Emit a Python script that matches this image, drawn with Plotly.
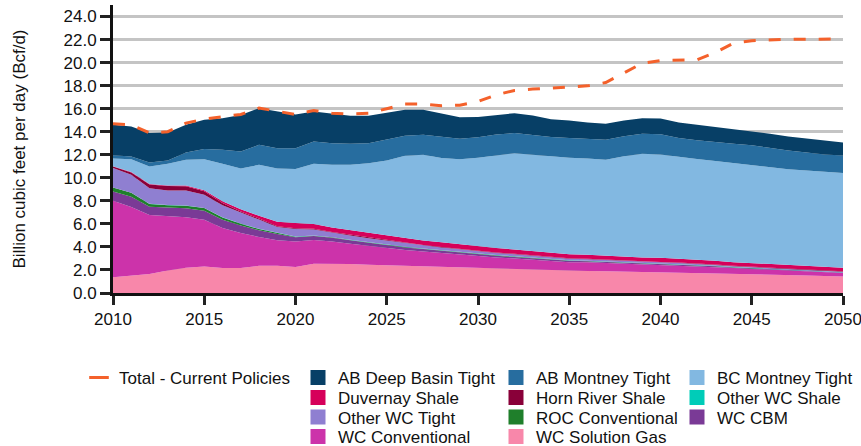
import plotly.graph_objects as go

years = list(range(2010, 2051))

wc_solution_gas = [1.36, 1.50, 1.65, 1.95, 2.20, 2.30, 2.18, 2.18, 2.36, 2.37, 2.25,
                   2.54, 2.54, 2.51, 2.45, 2.40, 2.37, 2.31, 2.28, 2.22, 2.16,
                   2.11, 2.08, 2.02, 1.96, 1.93, 1.90, 1.88, 1.85, 1.82, 1.82,
                   1.79, 1.76, 1.72, 1.68, 1.64, 1.60, 1.56, 1.52, 1.48, 1.44]
wc_conventional = [6.65, 5.96, 5.12, 4.74, 4.37, 4.06, 3.46, 3.03, 2.50, 2.21, 2.23,
                   2.05, 1.94, 1.76, 1.62, 1.50, 1.36, 1.30, 1.19, 1.10, 1.02,
                   0.98, 0.92, 0.87, 0.81, 0.75, 0.76, 0.72, 0.69, 0.66, 0.63,
                   0.61, 0.58, 0.54, 0.48, 0.45, 0.42, 0.39, 0.36, 0.33, 0.30]
wc_cbm = [0.80, 0.90, 0.72, 0.75, 0.78, 0.78, 0.72, 0.66, 0.58, 0.55, 0.36,
          0.35, 0.32, 0.30, 0.29, 0.25, 0.23, 0.21, 0.19, 0.18, 0.17,
          0.15, 0.13, 0.12, 0.12, 0.12, 0.10, 0.10, 0.09, 0.08, 0.07,
          0.06, 0.06, 0.06, 0.05, 0.05, 0.05, 0.04, 0.04, 0.04, 0.04]
roc_conventional = [0.35, 0.35, 0.24, 0.18, 0.23, 0.23, 0.19, 0.14, 0.11, 0.07, 0.05,
                    0.04, 0.03, 0.03, 0.03, 0.03, 0.03, 0.03, 0.03, 0.03, 0.03,
                    0.03, 0.03, 0.03, 0.03, 0.03, 0.02, 0.02, 0.02, 0.02, 0.02,
                    0.02, 0.02, 0.02, 0.02, 0.02, 0.01, 0.01, 0.01, 0.01, 0.01]
other_wc_shale = [0.00, 0.00, 0.01, 0.01, 0.01, 0.01, 0.02, 0.02, 0.02, 0.02, 0.02,
                  0.02, 0.02, 0.02, 0.02, 0.02, 0.02, 0.02, 0.02, 0.02, 0.02,
                  0.02, 0.02, 0.02, 0.02, 0.02, 0.02, 0.02, 0.02, 0.02, 0.02,
                  0.02, 0.02, 0.02, 0.02, 0.02, 0.01, 0.01, 0.01, 0.01, 0.01]
other_wc_tight = [1.70, 1.55, 1.35, 1.27, 1.30, 1.15, 1.05, 0.93, 0.80, 0.50, 0.65,
                  0.51, 0.38, 0.38, 0.34, 0.35, 0.30, 0.24, 0.24, 0.24, 0.21,
                  0.18, 0.18, 0.18, 0.15, 0.12, 0.13, 0.11, 0.10, 0.10, 0.10,
                  0.10, 0.09, 0.08, 0.07, 0.06, 0.06, 0.06, 0.06, 0.06, 0.05]
horn_river_shale = [0.12, 0.20, 0.32, 0.38, 0.38, 0.30, 0.20, 0.12, 0.09, 0.08, 0.07,
                    0.07, 0.06, 0.06, 0.06, 0.05, 0.05, 0.05, 0.05, 0.05, 0.05,
                    0.05, 0.05, 0.05, 0.05, 0.05, 0.04, 0.04, 0.04, 0.04, 0.04,
                    0.04, 0.04, 0.04, 0.04, 0.04, 0.03, 0.03, 0.03, 0.03, 0.03]
duvernay_shale = [0.02, 0.04, 0.05, 0.05, 0.07, 0.10, 0.15, 0.18, 0.25, 0.38, 0.44,
                  0.40, 0.40, 0.40, 0.41, 0.41, 0.41, 0.40, 0.40, 0.38, 0.37,
                  0.38, 0.37, 0.35, 0.34, 0.35, 0.35, 0.34, 0.35, 0.35, 0.35,
                  0.35, 0.34, 0.33, 0.32, 0.32, 0.32, 0.32, 0.32, 0.32, 0.32]
bc_montney_tight = [0.68, 1.12, 1.52, 1.88, 2.22, 2.69, 3.24, 3.54, 4.42, 4.62, 4.70,
                    5.24, 5.44, 5.67, 6.04, 6.50, 7.14, 7.44, 7.32, 7.40, 7.71,
                    8.01, 8.36, 8.36, 8.36, 8.37, 8.36, 8.33, 8.70, 9.00, 8.97,
                    8.82, 8.72, 8.65, 8.60, 8.54, 8.43, 8.33, 8.29, 8.24, 8.21]
ab_montney_tight = [0.27, 0.23, 0.35, 0.29, 0.64, 0.87, 1.22, 1.48, 1.73, 1.77, 1.80,
                    1.93, 1.87, 1.82, 1.73, 1.78, 1.74, 1.73, 1.82, 1.78, 1.77,
                    1.85, 1.74, 1.73, 1.70, 1.72, 1.68, 1.74, 1.74, 1.73, 1.75,
                    1.64, 1.62, 1.62, 1.68, 1.68, 1.64, 1.62, 1.56, 1.50, 1.52]
ab_deep_basin_tight = [2.65, 2.60, 2.55, 2.44, 2.40, 2.54, 2.75, 3.18, 3.18, 3.18, 2.93,
                       2.60, 2.55, 2.43, 2.40, 2.37, 2.25, 2.17, 2.02, 1.86, 1.76,
                       1.71, 1.73, 1.67, 1.55, 1.52, 1.44, 1.39, 1.38, 1.36, 1.37,
                       1.36, 1.36, 1.33, 1.27, 1.25, 1.25, 1.22, 1.21, 1.22, 1.14]
total_current_policies = [14.70, 14.60, 13.90, 14.00, 14.75, 15.10, 15.30, 15.50, 16.05, 15.75, 15.50,
                          15.84, 15.60, 15.55, 15.60, 16.00, 16.40, 16.40, 16.25, 16.30, 16.62,
                          17.20, 17.58, 17.70, 17.78, 17.85, 17.98, 18.27, 19.14, 19.95, 20.18,
                          20.24, 20.24, 20.87, 21.68, 21.90, 21.97, 22.03, 22.03, 22.03, 22.05]

y_tick_values = [0, 2, 4, 6, 8, 10, 12, 14, 16, 18, 20, 22, 24]
x_tick_values = [2010, 2015, 2020, 2025, 2030, 2035, 2040, 2045, 2050]

# stacking order, bottom to top
stack = [
    ("WC Solution Gas", wc_solution_gas, "#f887aa"),
    ("WC Conventional", wc_conventional, "#cc33aa"),
    ("WC CBM", wc_cbm, "#7a3a96"),
    ("ROC Conventional", roc_conventional, "#1f7f2b"),
    ("Other WC Shale", other_wc_shale, "#00ccb8"),
    ("Other WC Tight", other_wc_tight, "#8f7fd1"),
    ("Horn River Shale", horn_river_shale, "#890039"),
    ("Duvernay Shale", duvernay_shale, "#d6005a"),
    ("BC Montney Tight", bc_montney_tight, "#82b8e1"),
    ("AB Montney Tight", ab_montney_tight, "#276d9f"),
    ("AB Deep Basin Tight", ab_deep_basin_tight, "#073f66"),
]
colors = {n: c for n, _, c in stack}
total_color = "#f4612b"

FONT = "Liberation Sans, Arial, sans-serif"
W, H = 861, 446
ML, MR, MT, MB = 113, 18, 5, 153
PW, PH = W - ML - MR, H - MT - MB

fig = go.Figure()
for name, vals, col in stack:
    fig.add_trace(go.Scatter(
        x=years, y=vals, name=name, mode="lines", stackgroup="one",
        line=dict(width=0, color=col), fillcolor=col, showlegend=False))

fig.add_trace(go.Scatter(
    x=years, y=total_current_policies, name="Total - Current Policies", mode="lines",
    line=dict(color=total_color, width=3, dash="12px,13px"), showlegend=False))

# legend layout: column 1 has the total line, columns 2-4 the areas
legend_cells = [
    ("Total - Current Policies", 1, 0, 0),
    ("AB Deep Basin Tight", 2, 1, 0), ("AB Montney Tight", 3, 2, 0), ("BC Montney Tight", 4, 3, 0),
    ("Duvernay Shale", 5, 1, 1), ("Horn River Shale", 6, 2, 1), ("Other WC Shale", 7, 3, 1),
    ("Other WC Tight", 8, 1, 2), ("ROC Conventional", 9, 2, 2), ("WC CBM", 10, 3, 2),
    ("WC Conventional", 11, 1, 3), ("WC Solution Gas", 12, 2, 3),
]
col_text_x = [119, 338, 536, 717]
row_center_y = [377.5, 397.5, 417, 436.5]

legends = {}
for name, idx, c, r in legend_cells:
    lid = "legend" if idx == 1 else f"legend{idx}"
    if name.startswith("Total"):
        marker = dict(symbol="line-ew", size=14, color=total_color,
                      line=dict(color=total_color, width=3))
    else:
        marker = dict(symbol="square", size=15, color=colors[name], line=dict(width=0))
    fig.add_trace(go.Scatter(x=[None], y=[None], mode="markers", name=name,
                             marker=marker, legend=lid, showlegend=True, hoverinfo="skip"))
    left_px = col_text_x[c] - 40
    top_px = row_center_y[r] - 17.55
    legends[lid] = dict(
        x=(left_px - ML) / PW, y=(MT + PH - top_px) / PH,
        xanchor="left", yanchor="top", orientation="v",
        bgcolor="rgba(0,0,0,0)", borderwidth=0, itemsizing="trace",
        font=dict(family=FONT, size=17, color="#111111"))

fig.update_layout(
    width=W, height=H,
    margin=dict(l=ML, r=MR, t=MT, b=MB, autoexpand=False),
    paper_bgcolor="white", plot_bgcolor="white",
    font=dict(family=FONT, size=17, color="#111111"),
    **legends,
)

fig.update_xaxes(
    range=[2010, 2050], tickvals=x_tick_values, ticks="outside", ticklen=9,
    tickwidth=3, tickcolor="#222222", showline=True, linewidth=3, linecolor="#111111",
    showgrid=False, zeroline=False, ticklabeloverflow="allow",
    tickfont=dict(size=17, family=FONT, color="#111111"))
fig.update_yaxes(
    range=[0, 25], tickvals=y_tick_values, tickformat=".1f", ticks="outside", ticklen=10,
    tickwidth=3, tickcolor="#222222", showline=True, linewidth=3, linecolor="#111111",
    showgrid=True, gridcolor="#c4c4c4", gridwidth=2.5, zeroline=False,
    tickfont=dict(size=17, family=FONT, color="#111111"),
    title=dict(text="Billion cubic feet per day (Bcf/d)", font=dict(size=17, family=FONT, color="#111111"),
               standoff=34))

fig.write_html("out.html", config={"displayModeBar": False},
               post_script="document.body.style.margin='0px';document.body.style.overflow='hidden';")
